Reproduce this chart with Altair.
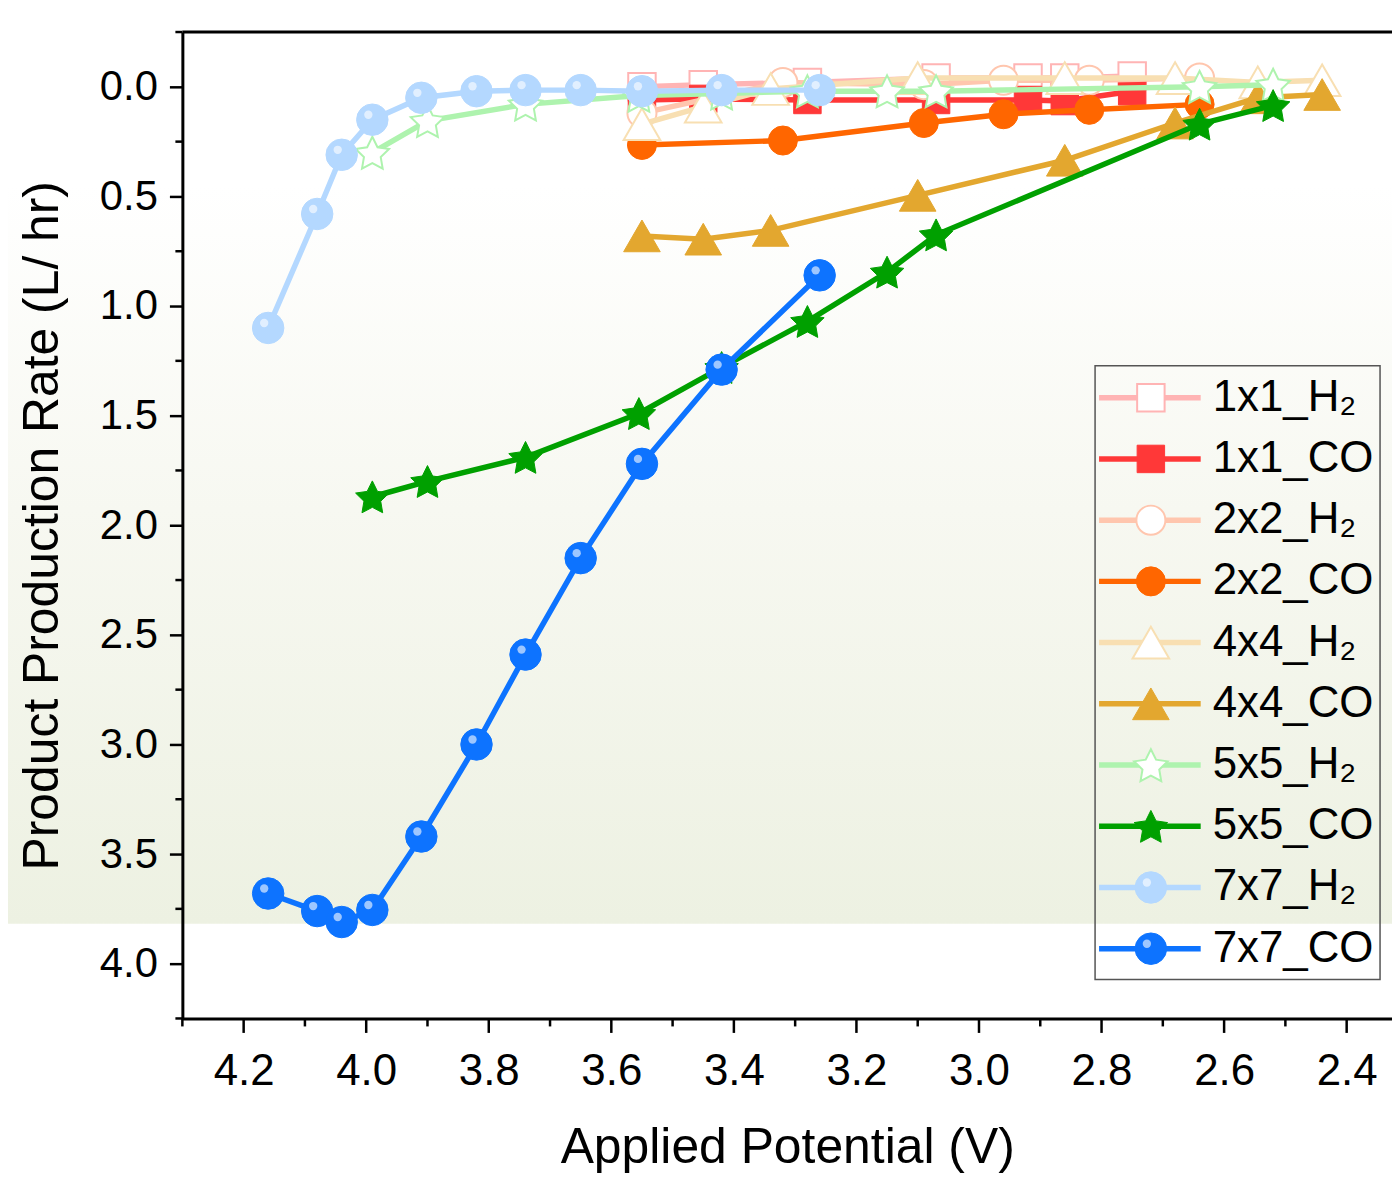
import math
import altair as alt
import pandas as pd

# ---------------- data ----------------
names = ["1x1_H2", "1x1_CO", "2x2_H2", "2x2_CO", "4x4_H2",
         "4x4_CO", "5x5_H2", "5x5_CO", "7x7_H2", "7x7_CO"]
labels = ["1x1_H\u2082", "1x1_CO", "2x2_H\u2082", "2x2_CO", "4x4_H\u2082",
          "4x4_CO", "5x5_H\u2082", "5x5_CO", "7x7_H\u2082", "7x7_CO"]

v_1x1 = [3.55, 3.45, 3.28, 3.07, 2.92, 2.86, 2.75]
h2_1x1 = [0.00, -0.01, -0.02, -0.04, -0.04, -0.04, -0.05]
co_1x1 = [0.06, 0.055, 0.06, 0.06, 0.06, 0.065, 0.02]

v_2x2 = [3.55, 3.32, 3.09, 2.96, 2.82, 2.64]
h2_2x2 = [0.12, -0.02, -0.01, -0.03, -0.03, -0.04]
co_2x2 = [0.265, 0.245, 0.165, 0.125, 0.105, 0.08]

v_4x4 = [3.55, 3.45, 3.34, 3.10, 2.86, 2.68, 2.545, 2.44]
h2_4x4 = [0.17, 0.09, 0.01, -0.04, -0.04, -0.04, -0.02, -0.03]
co_4x4 = [0.68, 0.695, 0.655, 0.495, 0.335, 0.165, 0.05, 0.035]

v_5x5 = [3.99, 3.90, 3.74, 3.555, 3.42, 3.28, 3.15, 3.07, 2.64, 2.52]
h2_5x5 = [0.30, 0.155, 0.08, 0.04, 0.03, 0.02, 0.02, 0.02, 0.0, -0.01]
co_5x5 = [1.87, 1.80, 1.69, 1.49, 1.28, 1.07, 0.845, 0.675, 0.17, 0.085]

v_7x7 = [4.16, 4.08, 4.04, 3.99, 3.91, 3.82, 3.74, 3.65, 3.55, 3.42, 3.26]
h2_7x7 = [1.10, 0.58, 0.31, 0.15, 0.05, 0.02, 0.015, 0.015, 0.02, 0.015, 0.015]
co_7x7 = [3.68, 3.76, 3.81, 3.755, 3.42, 3.00, 2.59, 2.15, 1.72, 1.29, 0.86]

x_major = [4.2, 4.0, 3.8, 3.6, 3.4, 3.2, 3.0, 2.8, 2.6, 2.4]
x_minor = [4.3, 4.1, 3.9, 3.7, 3.5, 3.3, 3.1, 2.9, 2.7, 2.5]
y_major = [0.0, 0.5, 1.0, 1.5, 2.0, 2.5, 3.0, 3.5, 4.0]
y_minor = [-0.25, 0.25, 0.75, 1.25, 1.75, 2.25, 2.75, 3.25, 3.75, 4.25]

series_data = {
    "1x1_H2": (v_1x1, h2_1x1), "1x1_CO": (v_1x1, co_1x1),
    "2x2_H2": (v_2x2, h2_2x2), "2x2_CO": (v_2x2, co_2x2),
    "4x4_H2": (v_4x4, h2_4x4), "4x4_CO": (v_4x4, co_4x4),
    "5x5_H2": (v_5x5, h2_5x5), "5x5_CO": (v_5x5, co_5x5),
    "7x7_H2": (v_7x7, h2_7x7), "7x7_CO": (v_7x7, co_7x7),
}

rows = []
for n in names:
    xs, ys = series_data[n]
    for a, b in zip(xs, ys):
        rows.append({"series": n, "x": a, "y": b})
df = pd.DataFrame(rows)

# ---------------- styles ----------------
def star_path(ri=0.5):
    pts = []
    for k in range(10):
        ang = -math.pi / 2 + k * math.pi / 5
        r = 1.0 if k % 2 == 0 else ri
        pts.append((r * math.cos(ang), r * math.sin(ang) + 0.1))
    return "M" + " L".join(f"{px:.3f},{py:.3f}" for px, py in pts) + " Z"

STAR = star_path()

style = {
    "1x1_H2": dict(color="#ffb4b4", shape="square", size=760, fill="#ffffff", sw=2),
    "1x1_CO": dict(color="#ff3838", shape="square", size=760, fill="#ff3838", sw=1),
    "2x2_H2": dict(color="#ffc6ae", shape="circle", size=850, fill="#ffffff", sw=2),
    "2x2_CO": dict(color="#ff6600", shape="circle", size=850, fill="#ff6600", sw=1),
    "4x4_H2": dict(color="#f8dfb2", shape="triangle-up", size=1350, fill="#ffffff", sw=2),
    "4x4_CO": dict(color="#e3a72f", shape="triangle-up", size=1350, fill="#e3a72f", sw=1),
    "5x5_H2": dict(color="#aef3ae", shape=STAR, size=1250, fill="#ffffff", sw=2),
    "5x5_CO": dict(color="#00a000", shape=STAR, size=1250, fill="#00a000", sw=1),
    "7x7_H2": dict(color="#b4d8ff", shape="circle", size=1000, fill="#b4d8ff", sw=1),
    "7x7_CO": dict(color="#0d73ff", shape="circle", size=1000, fill="#0d73ff", sw=1),
}

W, H = 1214, 990
FONT = "Liberation Sans"

xscale = alt.Scale(domain=[2.326, 4.3], reverse=True, nice=False, zero=False)
yscale = alt.Scale(domain=[-0.25, 4.25], reverse=True, nice=False, zero=False)

xaxis = alt.Axis(values=x_major, format=".1f", title="Applied Potential (V)",
                 labelFont=FONT, labelFontSize=44, labelColor="black", labelPadding=17,
                 labelOverlap=False, tickSize=14, tickWidth=2.5, tickColor="black",
                 domainWidth=3, domainColor="black", grid=False, zindex=1,
                 titleFont=FONT, titleFontSize=50, titleFontWeight="normal",
                 titleColor="black", titlePadding=30)
yaxis = alt.Axis(values=y_major, format=".1f", title="Product Production Rate (L/ hr)",
                 labelFont=FONT, labelFontSize=42, labelColor="black", labelPadding=12,
                 labelOverlap=False, tickSize=13, tickWidth=2.5, tickColor="black",
                 domainWidth=3, domainColor="black", grid=False, zindex=1,
                 titleFont=FONT, titleFontSize=50, titleFontWeight="normal",
                 titleColor="black", titlePadding=32)

X = alt.X("x:Q", scale=xscale, axis=xaxis)
Y = alt.Y("y:Q", scale=yscale, axis=yaxis)

one = pd.DataFrame({"k": [0]})

gradient = {
    "gradient": "linear", "x1": 0, "x2": 0, "y1": 0, "y2": 1,
    "stops": [
        {"offset": 0.0, "color": "#ffffff"},
        {"offset": 0.2, "color": "#ffffff"},
        {"offset": 0.55, "color": "#f7f8f1"},
        {"offset": 1.0, "color": "#edf1e2"},
    ],
}

bg = alt.Chart(one).mark_rect(color=gradient).encode(
    x=alt.value(-183), x2=alt.value(W + 3), y=alt.value(-30), y2=alt.value(895)
)
top_line = alt.Chart(one).mark_rule(color="black", strokeWidth=3).encode(
    x=alt.value(0), x2=alt.value(W + 3), y=alt.value(0)
)
minor_x = alt.Chart(pd.DataFrame({"x": x_minor})).mark_rule(
    color="black", strokeWidth=2.5
).encode(x=X, y=alt.value(H), y2=alt.value(H + 8))
minor_y = alt.Chart(pd.DataFrame({"y": y_minor})).mark_rule(
    color="black", strokeWidth=2.5
).encode(y=Y, x=alt.value(-7), x2=alt.value(0))

layers = [bg, top_line, minor_x, minor_y]
base = alt.Chart(df)
for n in names:
    s = style[n]
    sub = base.transform_filter(alt.datum.series == n)
    layers.append(sub.mark_line(color=s["color"], strokeWidth=5.5).encode(x=X, y=Y))
    layers.append(sub.mark_point(shape=s["shape"], size=s["size"], filled=True,
                                 fill=s["fill"], stroke=s["color"],
                                 strokeWidth=s["sw"], opacity=1).encode(x=X, y=Y))
    if n.startswith("7x7"):
        layers.append(sub.mark_point(shape="circle", size=70, filled=True,
                                     color="white", opacity=0.6,
                                     xOffset=-4, yOffset=-5).encode(x=X, y=Y))

main = alt.layer(*layers)

# ---------------- legend ----------------
leg_df = pd.DataFrame({"series": names, "label": labels})
LY = alt.Y("series:N", scale=alt.Scale(type="point", domain=names,
                                       range=[367, 920], padding=0), axis=None)
leg_base = alt.Chart(leg_df)
leg_layers = [
    alt.Chart(one).mark_rect(fillOpacity=0, stroke="#555555", strokeWidth=1.5).encode(
        x=alt.value(916), x2=alt.value(1202), y=alt.value(335), y2=alt.value(951)
    ),
    leg_base.mark_rule(strokeWidth=5.5).encode(
        y=LY, x=alt.value(920), x2=alt.value(1022),
        color=alt.Color("series:N", scale=alt.Scale(domain=names,
                        range=[style[n]["color"] for n in names]), legend=None)
    ),
]
for n in names:
    s = style[n]
    sub = leg_base.transform_filter(alt.datum.series == n)
    leg_layers.append(sub.mark_point(shape=s["shape"], size=s["size"], filled=True,
                                     fill=s["fill"], stroke=s["color"],
                                     strokeWidth=s["sw"], opacity=1).encode(
        y=LY, x=alt.value(972)))
    if n.startswith("7x7"):
        leg_layers.append(sub.mark_point(shape="circle", size=70, filled=True,
                                         color="white", opacity=0.6,
                                         xOffset=-4, yOffset=-5).encode(
            y=LY, x=alt.value(972)))
leg_layers.append(leg_base.mark_text(align="left", baseline="middle", font=FONT,
                                     fontSize=44, color="black").encode(
    y=LY, x=alt.value(1034), text="label:N"))

legend = alt.layer(*leg_layers)

chart = alt.layer(main, legend).resolve_scale(y="independent").properties(
    width=W, height=H,
    padding={"left": 175, "top": 22, "right": 0, "bottom": 158},
    autosize=alt.AutoSizeParams(type="none"),
).configure_view(stroke=None).configure(font=FONT)

chart.save("out.html", embed_options={"renderer": "svg", "actions": False})
